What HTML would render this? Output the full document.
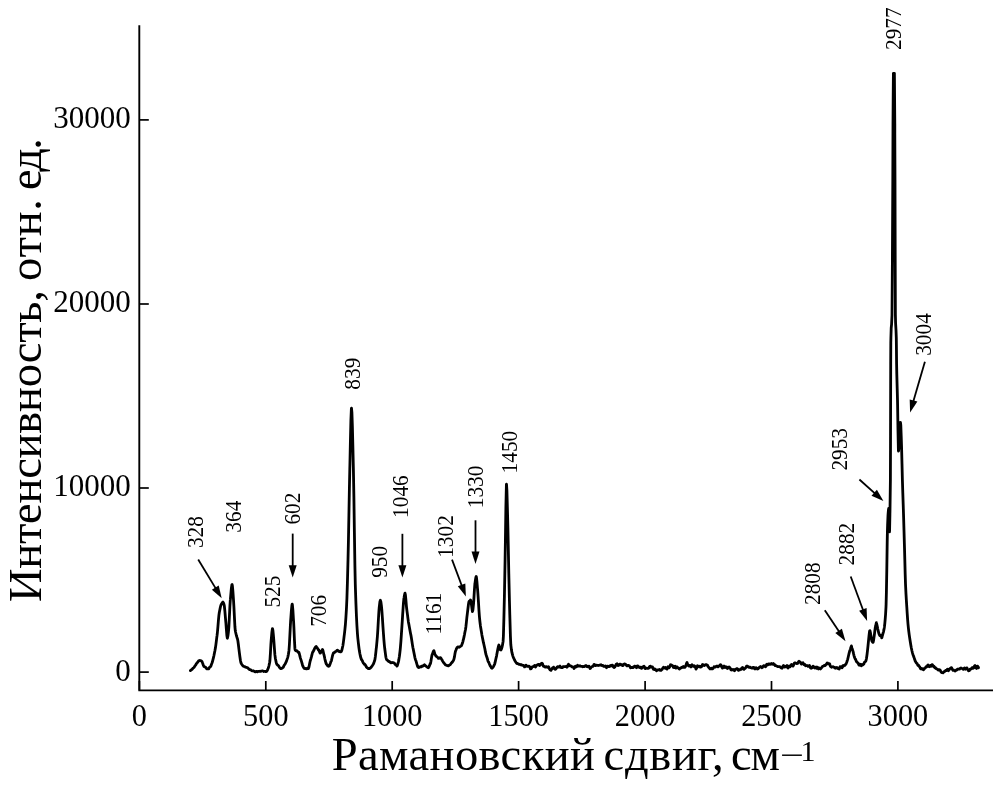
<!DOCTYPE html>
<html lang="ru"><head><meta charset="utf-8"><title>Рамановский спектр</title>
<style>
html,body{margin:0;padding:0;background:#fff;}
body{width:1004px;height:811px;overflow:hidden;font-family:"Liberation Serif",serif;}
svg{display:block;}
text{font-family:"Liberation Serif",serif;fill:#000;}
.tl{font-size:32.4px;}
.pl{font-size:22.8px;}
.ax{stroke:#000;stroke-width:1.9;fill:none;}
.tk{stroke:#000;stroke-width:1.7;}
.al{stroke:#000;stroke-width:1.8;}
.cv{stroke:#000;stroke-width:2.8;fill:none;stroke-linejoin:round;stroke-linecap:round;}
</style></head><body>
<svg width="1004" height="811" viewBox="0 0 1004 811">
<rect width="1004" height="811" fill="#fff"/>
<polyline points="139.3,25.3 139.3,690.4 993,690.4" class="ax"/>
<line x1="139.4" y1="690.4" x2="139.4" y2="681" class="tk"/><text transform="translate(139.4,726.1) scale(0.935,1)" class="tl" text-anchor="middle">0</text><line x1="265.8" y1="690.4" x2="265.8" y2="681" class="tk"/><text transform="translate(265.8,726.1) scale(0.935,1)" class="tl" text-anchor="middle">500</text><line x1="392.2" y1="690.4" x2="392.2" y2="681" class="tk"/><text transform="translate(392.2,726.1) scale(0.935,1)" class="tl" text-anchor="middle">1000</text><line x1="518.6" y1="690.4" x2="518.6" y2="681" class="tk"/><text transform="translate(518.6,726.1) scale(0.935,1)" class="tl" text-anchor="middle">1500</text><line x1="645.1" y1="690.4" x2="645.1" y2="681" class="tk"/><text transform="translate(645.1,726.1) scale(0.935,1)" class="tl" text-anchor="middle">2000</text><line x1="771.5" y1="690.4" x2="771.5" y2="681" class="tk"/><text transform="translate(771.5,726.1) scale(0.935,1)" class="tl" text-anchor="middle">2500</text><line x1="897.9" y1="690.4" x2="897.9" y2="681" class="tk"/><text transform="translate(897.9,726.1) scale(0.935,1)" class="tl" text-anchor="middle">3000</text>
<line x1="139.3" y1="672.1" x2="148.8" y2="672.1" class="tk"/><text transform="translate(130.7,680.5) scale(0.957,1)" class="tl" text-anchor="end">0</text><line x1="139.3" y1="488.0" x2="148.8" y2="488.0" class="tk"/><text transform="translate(130.7,496.4) scale(0.957,1)" class="tl" text-anchor="end">10000</text><line x1="139.3" y1="304.0" x2="148.8" y2="304.0" class="tk"/><text transform="translate(130.7,312.4) scale(0.957,1)" class="tl" text-anchor="end">20000</text><line x1="139.3" y1="119.9" x2="148.8" y2="119.9" class="tk"/><text transform="translate(130.7,128.3) scale(0.957,1)" class="tl" text-anchor="end">30000</text>
<text transform="translate(40.6,602.0) rotate(-90)" font-size="46.5" textLength="312.0" lengthAdjust="spacing">Интенсивность,</text>
<text transform="translate(40.6,281.0) rotate(-90)" font-size="46.5" textLength="82.0" lengthAdjust="spacing">отн.</text>
<text transform="translate(40.6,190.0) rotate(-90)" font-size="46.5" textLength="52.0" lengthAdjust="spacing">ед.</text>

<text x="331.8" y="769.7" font-size="46.5" textLength="263.0" lengthAdjust="spacing">Рамановский</text>
<text x="603.6" y="769.7" font-size="46.5" textLength="120.0" lengthAdjust="spacing">сдвиг,</text>
<text x="731.0" y="769.7" font-size="46.5" textLength="49.0" lengthAdjust="spacing">см</text>
<text transform="translate(780.2,764.6) scale(1.42,1)" font-size="30">−</text><text x="800.6" y="760.8" font-size="30">1</text>

<text transform="translate(203.3,532.1) rotate(-90) scale(0.935,1)" class="pl" text-anchor="middle">328</text><text transform="translate(240.8,516.7) rotate(-90) scale(0.935,1)" class="pl" text-anchor="middle">364</text><text transform="translate(279.9,591.6) rotate(-90) scale(0.935,1)" class="pl" text-anchor="middle">525</text><text transform="translate(300.4,508.6) rotate(-90) scale(0.935,1)" class="pl" text-anchor="middle">602</text><text transform="translate(326.0,610.8) rotate(-90) scale(0.935,1)" class="pl" text-anchor="middle">706</text><text transform="translate(359.7,373.7) rotate(-90) scale(0.935,1)" class="pl" text-anchor="middle">839</text><text transform="translate(387.4,561.8) rotate(-90) scale(0.935,1)" class="pl" text-anchor="middle">950</text><text transform="translate(408.3,496.6) rotate(-90) scale(0.935,1)" class="pl" text-anchor="middle">1046</text><text transform="translate(440.6,613.7) rotate(-90) scale(0.935,1)" class="pl" text-anchor="middle">1161</text><text transform="translate(453.0,536.5) rotate(-90) scale(0.935,1)" class="pl" text-anchor="middle">1302</text><text transform="translate(483.2,486.9) rotate(-90) scale(0.935,1)" class="pl" text-anchor="middle">1330</text><text transform="translate(516.7,452.1) rotate(-90) scale(0.935,1)" class="pl" text-anchor="middle">1450</text><text transform="translate(819.7,583.7) rotate(-90) scale(0.935,1)" class="pl" text-anchor="middle">2808</text><text transform="translate(853.9,544.1) rotate(-90) scale(0.935,1)" class="pl" text-anchor="middle">2882</text><text transform="translate(846.8,449.3) rotate(-90) scale(0.935,1)" class="pl" text-anchor="middle">2953</text><text transform="translate(901.1,28.7) rotate(-90) scale(0.935,1)" class="pl" text-anchor="middle">2977</text><text transform="translate(931.2,334.5) rotate(-90) scale(0.935,1)" class="pl" text-anchor="middle">3004</text>
<line x1="198.2" y1="559.5" x2="216.3" y2="589.4" class="al"/><polygon points="221.7,598.3 211.9,589.8 218.7,585.6" fill="#000"/><line x1="292.7" y1="533.6" x2="292.7" y2="567.2" class="al"/><polygon points="292.7,577.6 288.7,565.2 296.7,565.2" fill="#000"/><line x1="402.4" y1="533.8" x2="402.4" y2="567.2" class="al"/><polygon points="402.4,577.6 398.4,565.2 406.4,565.2" fill="#000"/><line x1="452" y1="559.6" x2="462.2" y2="586.7" class="al"/><polygon points="465.9,596.4 457.8,586.2 465.3,583.4" fill="#000"/><line x1="475.5" y1="520.3" x2="475.5" y2="553.6" class="al"/><polygon points="475.5,564 471.5,551.6 479.5,551.6" fill="#000"/><line x1="824.8" y1="610.3" x2="839.7" y2="632.6" class="al"/><polygon points="845.5,641.2 835.3,633.1 841.9,628.7" fill="#000"/><line x1="850.7" y1="576.5" x2="863.5" y2="611.2" class="al"/><polygon points="867.1,621.0 859.1,610.7 866.6,608.0" fill="#000"/><line x1="859.4" y1="479.5" x2="875.7" y2="494.1" class="al"/><polygon points="883.4,501.1 871.5,495.8 876.9,489.8" fill="#000"/><line x1="924.9" y1="361.7" x2="913.0" y2="402.4" class="al"/><polygon points="910.1,412.4 909.7,399.4 917.4,401.6" fill="#000"/>
<path class="cv" d="M190.4,670.6 L190.9,670.2 L191.4,669.8 L191.9,669.4 L192.4,668.9 L192.9,668.5 L193.0,668.2 L193.4,667.9 L193.9,667.5 L194.4,666.9 L194.9,666.0 L195.4,665.2 L195.9,664.7 L196.0,664.5 L196.4,663.7 L196.9,663.1 L197.4,662.5 L197.9,662.0 L198.4,661.1 L198.9,660.7 L199.4,660.5 L199.9,660.4 L200.0,660.5 L200.4,660.6 L200.9,660.8 L201.4,660.9 L201.9,661.4 L202.4,662.5 L202.5,662.8 L202.9,663.9 L203.4,665.3 L203.9,666.3 L204.0,666.5 L204.4,666.5 L204.9,666.9 L205.4,667.0 L205.9,667.8 L206.4,668.5 L206.9,668.9 L207.4,668.8 L207.9,668.7 L208.4,668.9 L208.8,668.7 L208.9,668.4 L209.4,667.6 L209.9,667.1 L210.4,666.8 L210.9,666.0 L211.4,664.5 L211.5,664.2 L211.9,663.3 L212.4,661.8 L212.9,659.9 L213.4,657.9 L213.9,655.7 L214.4,653.2 L214.5,652.7 L214.9,650.8 L215.4,648.1 L215.9,644.6 L216.4,640.6 L216.9,636.4 L217.0,635.9 L217.4,632.5 L217.9,626.8 L218.4,620.6 L218.9,615.4 L219.3,612.5 L219.4,611.9 L219.9,609.4 L220.4,607.0 L220.9,605.2 L221.3,604.2 L221.4,604.3 L221.9,603.4 L222.4,602.5 L222.9,602.1 L223.4,602.8 L223.9,604.1 L224.3,605.7 L224.4,606.5 L224.9,611.4 L225.4,617.3 L225.8,621.8 L225.9,622.9 L226.4,629.6 L226.9,635.8 L227.3,638.1 L227.4,638.2 L227.9,636.0 L228.4,632.0 L228.6,630.2 L228.9,626.3 L229.4,616.5 L229.9,606.1 L230.3,600.2 L230.4,599.4 L230.9,593.5 L231.4,588.0 L231.9,584.8 L232.1,584.6 L232.4,585.9 L232.9,591.4 L233.4,598.5 L233.5,599.8 L233.9,606.7 L234.4,616.9 L234.9,626.5 L235.3,630.8 L235.4,631.3 L235.9,633.5 L236.4,635.5 L236.9,637.2 L237.4,638.7 L237.7,639.9 L237.9,641.0 L238.4,644.8 L238.9,648.8 L239.3,652.1 L239.4,652.9 L239.9,656.7 L240.4,660.2 L240.9,662.6 L241.4,663.7 L241.9,664.5 L242.4,665.2 L242.9,665.8 L243.4,666.2 L243.5,666.3 L243.9,666.4 L244.4,666.5 L244.9,666.7 L245.4,667.1 L245.9,667.3 L246.4,667.3 L246.9,667.5 L247.3,667.7 L247.4,667.7 L247.9,668.0 L248.4,668.5 L248.9,669.2 L249.4,669.4 L249.9,669.7 L250.4,669.7 L250.9,670.0 L251.4,670.4 L251.9,670.7 L252.4,670.9 L252.9,670.9 L253.4,671.0 L253.7,670.9 L253.9,671.0 L254.4,671.2 L254.9,671.7 L255.4,671.9 L255.9,671.6 L256.4,671.4 L256.9,671.4 L257.4,671.8 L257.9,671.5 L258.4,671.3 L258.9,671.4 L259.4,671.4 L259.9,671.3 L260.0,671.2 L260.4,671.4 L260.9,671.3 L261.4,671.1 L261.9,671.0 L262.4,670.8 L262.9,671.0 L263.4,671.2 L263.9,671.5 L264.4,671.4 L264.9,671.3 L265.4,671.4 L265.9,671.7 L266.4,671.5 L266.5,671.3 L266.9,671.0 L267.4,670.2 L267.9,668.9 L268.2,668.3 L268.4,667.8 L268.9,666.0 L269.4,663.6 L269.7,662.2 L269.9,660.8 L270.4,653.4 L270.9,644.4 L271.2,640.1 L271.4,637.8 L271.9,632.2 L272.4,628.7 L272.5,628.7 L272.9,630.3 L273.4,635.5 L273.8,640.0 L273.9,641.4 L274.4,648.3 L274.9,654.9 L275.0,655.7 L275.4,658.5 L275.9,661.0 L276.2,662.4 L276.4,663.2 L276.9,664.3 L277.4,664.9 L277.9,665.3 L278.4,665.6 L278.5,665.7 L278.9,666.4 L279.4,667.3 L279.9,668.0 L280.4,668.4 L280.9,668.6 L281.0,668.5 L281.4,668.5 L281.9,668.3 L282.4,667.9 L282.9,667.6 L283.4,667.0 L283.5,666.7 L283.9,665.8 L284.4,665.0 L284.9,664.3 L285.4,663.5 L285.8,662.5 L285.9,662.4 L286.4,661.4 L286.9,659.9 L287.4,658.4 L287.5,658.1 L287.9,656.6 L288.4,654.2 L288.9,651.0 L289.0,650.1 L289.4,644.5 L289.9,634.7 L290.4,625.0 L290.6,621.7 L290.9,617.4 L291.4,610.3 L291.9,605.4 L292.2,604.1 L292.4,604.8 L292.9,610.4 L293.4,618.9 L293.6,621.7 L293.9,627.4 L294.4,639.3 L294.9,648.4 L295.1,649.7 L295.4,650.2 L295.9,650.7 L296.4,650.9 L296.8,650.9 L296.9,650.8 L297.4,651.3 L297.9,651.9 L298.4,652.4 L298.6,652.2 L298.9,652.4 L299.4,654.0 L299.9,656.2 L300.4,658.1 L300.9,659.7 L301.0,659.9 L301.4,661.2 L301.9,662.8 L302.4,664.7 L302.9,666.2 L303.4,667.2 L303.9,667.9 L304.2,668.4 L304.4,668.5 L304.9,668.6 L305.4,668.4 L305.9,668.7 L306.4,668.9 L306.9,668.8 L307.4,668.2 L307.9,668.1 L308.2,668.4 L308.4,668.5 L308.9,667.2 L309.4,664.8 L309.9,662.2 L310.4,660.1 L310.5,660.0 L310.9,658.7 L311.4,656.9 L311.9,654.9 L312.4,653.0 L312.9,651.6 L313.0,651.9 L313.4,651.2 L313.9,650.2 L314.4,648.9 L314.9,648.0 L315.4,647.2 L315.9,646.6 L316.2,646.5 L316.4,646.8 L316.9,647.5 L317.4,648.1 L317.9,649.1 L318.4,649.9 L318.5,649.7 L318.9,650.2 L319.4,651.4 L319.9,652.7 L320.2,653.1 L320.4,653.1 L320.9,652.1 L321.4,651.4 L321.9,650.6 L322.4,649.9 L322.5,649.5 L322.9,650.3 L323.4,652.5 L323.9,654.7 L324.2,655.7 L324.4,656.6 L324.9,659.1 L325.4,661.2 L325.8,662.4 L325.9,662.9 L326.4,664.1 L326.9,664.8 L327.4,665.5 L327.9,666.0 L328.4,666.2 L328.8,666.3 L328.9,666.2 L329.4,665.8 L329.9,664.5 L330.4,663.2 L330.9,661.6 L331.2,661.2 L331.4,660.6 L331.9,658.5 L332.4,656.2 L332.9,654.4 L333.4,653.1 L333.7,652.8 L333.9,652.9 L334.4,652.6 L334.9,651.9 L335.4,651.6 L335.9,651.5 L336.4,651.3 L336.9,650.4 L337.4,650.1 L337.9,650.6 L338.4,651.0 L338.9,651.3 L339.3,651.4 L339.4,651.7 L339.9,651.7 L340.4,651.9 L340.9,651.8 L341.3,651.6 L341.4,651.3 L341.9,650.0 L342.4,647.7 L342.8,646.0 L342.9,645.5 L343.4,642.1 L343.9,638.1 L344.1,636.4 L344.4,634.1 L344.9,629.6 L345.4,624.5 L345.9,617.7 L346.4,609.3 L346.5,607.7 L346.9,598.7 L347.4,582.9 L347.9,564.1 L348.0,560.3 L348.4,542.3 L348.9,515.5 L349.4,488.2 L349.8,469.0 L349.9,464.9 L350.4,441.4 L350.9,420.0 L351.4,408.4 L351.5,408.1 L351.9,412.4 L352.4,427.1 L352.9,447.8 L353.4,469.6 L353.9,497.6 L354.4,532.8 L354.9,565.8 L355.3,584.3 L355.4,587.8 L355.9,602.6 L356.4,615.2 L356.9,625.3 L357.4,633.2 L357.7,636.8 L357.9,638.8 L358.4,643.4 L358.9,647.5 L359.4,651.1 L359.9,653.8 L360.4,656.2 L360.9,658.1 L361.4,659.4 L361.9,660.1 L362.4,660.9 L362.9,662.1 L363.4,663.1 L363.9,663.7 L364.4,664.3 L364.5,664.1 L364.9,664.5 L365.4,665.0 L365.9,666.1 L366.4,666.9 L366.9,667.4 L367.4,667.9 L367.9,668.2 L368.4,668.6 L368.9,668.7 L369.4,668.7 L369.9,668.3 L370.4,668.0 L370.9,667.5 L371.4,667.0 L371.9,666.3 L372.0,666.1 L372.4,665.5 L372.9,664.8 L373.4,664.0 L373.9,662.8 L374.4,661.2 L374.5,661.0 L374.9,659.6 L375.4,656.2 L375.9,651.9 L376.2,648.9 L376.4,647.3 L376.9,642.1 L377.4,636.3 L377.7,631.9 L377.9,628.6 L378.4,619.5 L378.9,611.3 L379.2,607.7 L379.4,605.9 L379.9,601.7 L380.4,600.3 L380.9,601.9 L381.4,605.7 L381.8,609.6 L381.9,611.1 L382.4,618.0 L382.9,625.9 L383.3,631.5 L383.4,633.0 L383.9,639.8 L384.4,645.6 L384.8,649.1 L384.9,649.7 L385.4,653.6 L385.9,657.2 L386.4,659.3 L386.5,659.4 L386.9,659.9 L387.4,660.2 L387.9,660.8 L388.4,661.3 L388.9,661.6 L389.0,661.5 L389.4,661.5 L389.9,662.1 L390.4,662.5 L390.9,662.8 L391.3,662.8 L391.4,662.7 L391.9,662.7 L392.4,662.5 L392.9,662.6 L393.4,662.7 L393.9,662.9 L394.0,662.9 L394.4,663.2 L394.9,663.9 L395.4,664.6 L395.9,664.9 L396.4,665.3 L396.9,665.9 L397.0,666.1 L397.4,665.3 L397.9,663.7 L398.4,661.9 L398.8,660.1 L398.9,659.4 L399.4,656.2 L399.9,652.3 L400.2,649.6 L400.4,647.4 L400.9,641.3 L401.4,634.1 L401.9,626.6 L402.4,618.9 L402.6,615.6 L402.9,611.0 L403.4,603.5 L403.9,598.4 L404.0,598.0 L404.4,595.6 L404.9,593.3 L405.0,593.1 L405.4,594.9 L405.9,600.0 L406.4,606.1 L406.6,608.0 L406.9,610.4 L407.4,614.1 L407.9,618.1 L408.4,621.9 L408.5,622.4 L408.9,624.6 L409.4,627.2 L409.9,630.0 L410.4,632.7 L410.6,633.7 L410.9,635.1 L411.4,638.1 L411.9,641.3 L412.4,644.6 L412.9,647.6 L413.0,648.1 L413.4,649.9 L413.9,652.5 L414.4,655.1 L414.9,657.6 L415.4,659.4 L415.9,660.7 L416.4,662.3 L416.9,664.2 L417.4,665.8 L417.9,666.9 L418.4,667.4 L418.6,667.6 L418.9,667.4 L419.4,667.3 L419.9,667.0 L420.4,666.7 L420.9,666.6 L421.4,666.8 L421.9,666.4 L422.0,666.0 L422.4,665.9 L422.9,666.1 L423.4,665.8 L423.9,665.4 L424.4,664.8 L424.9,665.1 L425.0,665.4 L425.4,665.7 L425.9,665.8 L426.4,666.4 L426.9,666.9 L427.4,667.2 L427.9,667.5 L428.2,667.5 L428.4,667.7 L428.9,667.0 L429.4,665.9 L429.9,664.5 L430.4,663.5 L430.5,663.4 L430.9,661.5 L431.4,658.4 L431.9,655.5 L432.3,654.2 L432.4,654.1 L432.9,652.7 L433.4,651.3 L433.8,650.7 L433.9,650.7 L434.4,652.3 L434.9,654.3 L435.0,654.4 L435.4,655.1 L435.9,655.9 L436.2,656.4 L436.4,656.4 L436.9,656.8 L437.4,657.1 L437.9,657.7 L438.4,658.4 L438.5,658.4 L438.9,658.4 L439.4,658.0 L439.9,657.8 L440.4,657.6 L440.9,658.0 L441.0,658.2 L441.4,658.9 L441.9,659.7 L442.4,660.7 L442.9,661.5 L443.4,662.2 L443.5,662.5 L443.9,662.8 L444.4,663.6 L444.9,664.2 L445.4,664.8 L445.8,664.9 L445.9,665.0 L446.4,665.2 L446.9,665.5 L447.4,665.6 L447.9,665.7 L448.4,665.9 L448.9,665.6 L449.4,665.1 L449.9,664.8 L450.4,664.4 L450.9,663.7 L451.4,662.9 L451.5,663.0 L451.9,662.6 L452.4,662.0 L452.9,661.2 L453.4,660.4 L453.9,659.3 L454.1,658.4 L454.4,657.2 L454.9,654.1 L455.4,651.4 L455.6,650.9 L455.9,650.2 L456.4,648.8 L456.9,647.8 L457.4,647.3 L457.9,646.9 L458.4,647.1 L458.9,647.1 L459.0,647.2 L459.4,647.0 L459.9,646.7 L460.4,646.4 L460.9,646.1 L461.2,645.9 L461.4,645.6 L461.9,644.6 L462.4,643.3 L462.9,641.6 L463.4,639.4 L463.5,639.3 L463.9,637.4 L464.4,635.0 L464.9,632.2 L465.4,630.0 L465.9,626.7 L466.4,622.2 L466.9,617.1 L467.3,613.8 L467.4,613.1 L467.9,609.0 L468.4,604.8 L468.9,601.8 L469.1,601.4 L469.4,601.2 L469.9,600.7 L470.4,600.3 L470.5,600.0 L470.9,601.1 L471.4,604.3 L471.6,605.8 L471.9,608.2 L472.4,611.6 L472.5,611.5 L472.9,609.9 L473.4,605.2 L473.6,603.1 L473.9,598.6 L474.4,590.2 L474.9,583.5 L475.0,583.3 L475.4,580.3 L475.9,577.3 L476.2,576.5 L476.4,577.2 L476.9,581.4 L477.4,587.5 L477.6,589.7 L477.9,593.7 L478.4,601.2 L478.9,609.5 L479.4,616.4 L479.6,618.7 L479.9,621.5 L480.4,625.7 L480.9,628.8 L481.4,631.8 L481.6,633.0 L481.9,634.9 L482.4,637.5 L482.9,639.9 L483.4,642.4 L483.9,644.5 L484.4,646.7 L484.9,649.0 L485.4,651.9 L485.9,654.3 L486.0,654.6 L486.4,655.8 L486.9,657.3 L487.4,658.8 L487.9,660.7 L488.1,661.3 L488.4,661.9 L488.9,662.6 L489.4,664.0 L489.9,665.2 L490.3,666.0 L490.4,666.0 L490.9,666.9 L491.4,667.8 L491.9,668.2 L492.4,667.9 L492.9,667.3 L493.4,666.7 L493.9,665.7 L494.4,664.7 L494.6,664.2 L494.9,663.3 L495.4,661.1 L495.9,658.8 L496.4,656.6 L496.6,655.8 L496.9,653.9 L497.4,651.2 L497.9,648.8 L498.4,646.5 L498.9,645.0 L499.4,646.5 L499.9,648.8 L500.4,649.9 L500.9,650.0 L501.4,649.1 L501.9,647.6 L502.0,647.3 L502.4,645.4 L502.9,642.6 L503.1,641.4 L503.4,636.0 L503.9,618.1 L504.1,609.8 L504.4,596.6 L504.9,570.1 L505.1,559.4 L505.4,540.8 L505.9,506.2 L506.4,484.8 L506.5,484.1 L506.9,490.3 L507.4,508.5 L507.7,520.1 L507.9,527.9 L508.4,553.2 L508.8,573.2 L508.9,577.8 L509.4,599.6 L509.8,614.8 L509.9,618.3 L510.4,635.7 L510.8,644.5 L510.9,645.4 L511.4,649.6 L511.9,652.4 L512.4,654.3 L512.6,655.0 L512.9,656.1 L513.4,657.6 L513.9,658.5 L514.4,659.7 L514.9,660.6 L515.1,661.0 L515.4,661.5 L515.9,662.3 L516.4,663.0 L516.9,663.5 L517.4,663.7 L517.8,663.7 L517.9,663.6 L518.4,664.0 L518.9,664.3 L519.4,664.4 L519.9,664.5 L520.4,664.7 L520.7,664.8 L520.9,664.5 L521.4,664.6 L521.9,665.0 L522.4,665.4 L522.9,665.4 L523.4,665.4 L523.9,665.5 L524.0,665.6 L524.5,666.9 L525.0,666.8 L525.5,665.6 L526.0,665.2 L526.5,665.6 L527.0,666.3 L527.5,666.4 L528.0,666.3 L528.5,666.3 L529.0,666.1 L529.5,666.5 L530.0,667.6 L530.5,668.9 L531.0,668.7 L531.5,668.2 L532.0,667.2 L532.5,666.6 L533.0,666.6 L533.5,666.4 L534.0,666.2 L534.5,665.5 L535.0,666.2 L535.5,667.1 L536.0,666.3 L536.5,665.2 L537.0,665.0 L537.5,664.9 L538.0,664.6 L538.5,664.3 L539.0,664.4 L539.5,665.5 L540.0,665.2 L540.5,664.4 L541.0,663.8 L541.5,663.5 L542.0,663.2 L542.5,663.7 L543.0,665.4 L543.5,666.4 L544.0,666.4 L544.5,666.4 L545.0,667.0 L545.5,667.2 L546.0,666.6 L546.5,666.6 L547.0,667.0 L547.5,667.4 L548.0,667.0 L548.5,666.8 L549.0,667.6 L549.5,669.0 L550.0,669.8 L550.5,669.9 L551.0,670.3 L551.5,669.4 L552.0,669.0 L552.5,667.9 L553.0,668.1 L553.5,667.1 L554.0,667.9 L554.5,668.8 L555.0,669.3 L555.5,669.3 L556.0,668.8 L556.5,668.1 L557.0,667.2 L557.5,666.8 L558.0,666.6 L558.5,667.2 L559.0,667.2 L559.5,666.7 L560.0,666.1 L560.5,667.2 L561.0,667.4 L561.5,667.7 L562.0,667.4 L562.5,667.6 L563.0,666.7 L563.5,666.8 L564.0,666.7 L564.5,666.7 L565.0,666.6 L565.5,666.7 L566.0,666.3 L566.5,666.5 L567.0,667.2 L567.5,666.6 L568.0,665.1 L568.5,664.3 L569.0,665.0 L569.5,665.6 L570.0,665.7 L570.5,666.0 L571.0,666.1 L571.5,666.3 L572.0,666.9 L572.5,666.8 L573.0,666.8 L573.5,667.4 L574.0,668.5 L574.5,667.7 L575.0,666.6 L575.5,666.2 L576.0,667.0 L576.5,666.9 L577.0,666.3 L577.5,665.3 L578.0,665.7 L578.5,666.1 L579.0,666.2 L579.5,666.0 L580.0,665.7 L580.5,666.2 L581.0,666.3 L581.5,666.4 L582.0,666.3 L582.5,666.7 L583.0,666.4 L583.5,666.7 L584.0,666.4 L584.5,666.5 L585.0,666.0 L585.5,665.6 L586.0,665.5 L586.5,665.9 L587.0,666.6 L587.5,666.8 L588.0,666.6 L588.5,666.3 L589.0,666.2 L589.5,667.4 L590.0,668.5 L590.5,668.2 L591.0,667.4 L591.5,667.0 L592.0,666.5 L592.5,666.4 L593.0,666.3 L593.5,665.5 L594.0,664.5 L594.5,664.5 L595.0,664.9 L595.5,665.6 L596.0,665.5 L596.5,665.2 L597.0,665.2 L597.5,665.4 L598.0,665.3 L598.5,665.5 L599.0,665.4 L599.5,665.1 L600.0,665.0 L600.5,665.0 L601.0,664.8 L601.5,665.5 L602.0,665.4 L602.5,665.3 L603.0,665.5 L603.5,666.4 L604.0,666.3 L604.5,666.3 L605.0,666.2 L605.5,666.0 L606.0,667.1 L606.5,667.7 L607.0,667.0 L607.5,666.1 L608.0,666.3 L608.5,666.5 L609.0,666.5 L609.5,666.5 L610.0,665.8 L610.5,665.6 L611.0,666.1 L611.5,665.4 L612.0,665.2 L612.5,665.1 L613.0,666.0 L613.5,667.0 L614.0,667.5 L614.5,667.2 L615.0,666.8 L615.5,665.6 L616.0,664.5 L616.5,664.0 L617.0,663.8 L617.5,664.7 L618.0,665.6 L618.5,665.5 L619.0,665.1 L619.5,664.3 L620.0,664.1 L620.5,664.3 L621.0,664.9 L621.5,664.6 L622.0,665.1 L622.5,665.7 L623.0,665.7 L623.5,664.6 L624.0,664.0 L624.5,663.9 L625.0,664.0 L625.5,664.2 L626.0,664.7 L626.5,665.4 L627.0,665.9 L627.5,665.8 L628.0,665.6 L628.5,665.4 L629.0,665.5 L629.5,666.1 L630.0,666.8 L630.5,667.7 L631.0,667.4 L631.5,667.6 L632.0,667.3 L632.5,667.5 L633.0,667.5 L633.5,666.9 L634.0,666.7 L634.5,666.2 L635.0,666.1 L635.5,666.9 L636.0,667.0 L636.5,667.7 L637.0,666.2 L637.5,665.8 L638.0,666.0 L638.5,666.9 L639.0,667.3 L639.5,667.5 L640.0,667.2 L640.5,667.2 L641.0,668.0 L641.5,668.4 L642.0,668.1 L642.5,666.8 L643.0,666.8 L643.5,666.5 L644.0,666.2 L644.5,667.2 L645.0,668.4 L645.5,668.6 L646.0,668.2 L646.5,668.2 L647.0,668.1 L647.5,668.4 L648.0,668.4 L648.5,668.2 L649.0,667.9 L649.5,666.6 L650.0,666.3 L650.5,666.2 L651.0,667.0 L651.5,667.0 L652.0,667.0 L652.5,666.9 L653.0,668.3 L653.5,669.3 L654.0,669.5 L654.5,668.9 L655.0,669.1 L655.5,669.6 L656.0,669.8 L656.5,670.7 L657.0,670.2 L657.5,670.1 L658.0,669.9 L658.5,669.9 L659.0,669.8 L659.5,669.4 L660.0,670.3 L660.5,670.1 L661.0,670.4 L661.5,669.7 L662.0,669.7 L662.5,668.6 L663.0,668.1 L663.5,667.3 L664.0,667.9 L664.5,667.8 L665.0,668.2 L665.5,667.5 L666.0,668.0 L666.5,668.7 L667.0,669.1 L667.5,667.8 L668.0,666.8 L668.5,667.1 L669.0,667.8 L669.5,667.2 L670.0,666.1 L670.5,664.8 L671.0,665.1 L671.5,664.9 L672.0,665.4 L672.5,665.5 L673.0,666.6 L673.5,667.5 L674.0,667.6 L674.5,666.4 L675.0,666.2 L675.5,667.4 L676.0,668.1 L676.5,667.5 L677.0,666.8 L677.5,667.5 L678.0,667.8 L678.5,668.3 L679.0,668.8 L679.5,669.1 L680.0,668.2 L680.5,668.0 L681.0,668.1 L681.5,667.6 L682.0,667.4 L682.5,666.9 L683.0,667.2 L683.5,666.6 L684.0,667.3 L684.5,667.0 L685.0,667.2 L685.5,666.3 L686.0,665.2 L686.5,663.4 L687.0,662.5 L687.5,663.9 L688.0,665.4 L688.5,665.7 L689.0,666.0 L689.5,665.6 L690.0,665.4 L690.5,666.3 L691.0,666.9 L691.5,665.5 L692.0,664.7 L692.5,665.2 L693.0,666.2 L693.5,666.3 L694.0,666.5 L694.5,665.8 L695.0,666.6 L695.5,667.6 L696.0,669.1 L696.5,668.2 L697.0,667.3 L697.5,665.8 L698.0,666.2 L698.5,666.1 L699.0,666.8 L699.5,666.2 L700.0,666.4 L700.5,667.0 L701.0,667.0 L701.5,666.8 L702.0,665.6 L702.5,664.5 L703.0,664.6 L703.5,665.1 L704.0,665.5 L704.5,665.5 L705.0,665.1 L705.5,664.8 L706.0,664.6 L706.5,664.7 L707.0,665.2 L707.5,665.1 L708.0,666.5 L708.5,667.0 L709.0,667.9 L709.5,668.1 L710.0,668.9 L710.5,668.7 L711.0,668.9 L711.5,668.2 L712.0,668.5 L712.5,668.9 L713.0,668.5 L713.5,667.8 L714.0,666.8 L714.5,667.0 L715.0,666.9 L715.5,667.1 L716.0,666.3 L716.5,666.4 L717.0,665.9 L717.5,666.4 L718.0,666.8 L718.5,666.4 L719.0,665.8 L719.5,665.9 L720.0,665.0 L720.5,664.6 L721.0,665.0 L721.5,666.3 L722.0,667.4 L722.5,668.1 L723.0,667.7 L723.5,666.4 L724.0,665.9 L724.5,666.5 L725.0,667.5 L725.5,667.3 L726.0,666.9 L726.5,666.8 L727.0,668.3 L727.5,668.5 L728.0,668.0 L728.5,667.2 L729.0,667.0 L729.5,667.3 L730.0,667.9 L730.5,668.8 L731.0,669.9 L731.5,670.0 L732.0,669.7 L732.5,669.8 L733.0,669.4 L733.5,669.8 L734.0,670.3 L734.5,670.8 L735.0,669.9 L735.5,669.1 L736.0,669.1 L736.5,668.9 L737.0,668.5 L737.5,668.9 L738.0,669.9 L738.5,670.3 L739.0,669.9 L739.5,669.9 L740.0,669.8 L740.5,669.1 L741.0,668.7 L741.5,669.2 L742.0,668.1 L742.5,667.5 L743.0,667.7 L743.5,668.7 L744.0,669.3 L744.5,668.6 L745.0,668.4 L745.5,667.9 L746.0,667.3 L746.5,666.2 L747.0,666.0 L747.5,666.5 L748.0,666.4 L748.5,667.0 L749.0,667.3 L749.5,667.1 L750.0,667.2 L750.5,667.6 L751.0,667.7 L751.5,667.9 L752.0,668.1 L752.5,668.1 L753.0,667.4 L753.5,667.3 L754.0,667.5 L754.5,668.6 L755.0,669.1 L755.5,668.6 L756.0,667.7 L756.5,667.8 L757.0,668.4 L757.5,669.0 L758.0,668.9 L758.5,668.2 L759.0,667.7 L759.5,667.2 L760.0,666.9 L760.5,666.4 L761.0,666.9 L761.5,667.4 L762.0,667.7 L762.5,667.3 L763.0,666.4 L763.5,665.8 L764.0,665.6 L764.5,666.1 L765.0,666.5 L765.5,666.8 L766.0,666.3 L766.5,664.6 L767.0,664.2 L767.5,664.7 L768.0,664.8 L768.5,663.9 L769.0,663.9 L769.5,663.8 L770.0,664.4 L770.5,664.2 L771.0,664.1 L771.5,663.5 L772.0,663.9 L772.5,664.2 L773.0,664.3 L773.5,663.6 L774.0,664.5 L774.5,664.4 L775.0,665.5 L775.5,665.3 L776.0,665.8 L776.5,666.0 L777.0,666.2 L777.5,666.4 L778.0,666.7 L778.5,666.6 L779.0,666.6 L779.5,666.6 L780.0,666.8 L780.5,667.3 L781.0,667.7 L781.5,668.0 L782.0,668.2 L782.5,667.5 L783.0,666.1 L783.5,665.6 L784.0,666.1 L784.5,667.1 L785.0,667.0 L785.5,666.9 L786.0,666.5 L786.5,665.9 L787.0,665.4 L787.5,667.2 L788.0,668.0 L788.5,667.2 L789.0,666.2 L789.5,666.1 L790.0,666.9 L790.5,666.1 L791.0,665.1 L791.5,664.5 L792.0,664.8 L792.5,665.5 L793.0,666.1 L793.5,665.2 L794.0,664.0 L794.5,663.0 L795.0,662.8 L795.5,663.1 L796.0,663.2 L796.5,663.4 L797.0,663.6 L797.5,663.5 L798.0,662.9 L798.5,661.8 L799.0,661.3 L799.5,661.8 L800.0,661.9 L800.5,662.4 L801.0,663.5 L801.5,664.1 L802.0,663.6 L802.5,663.0 L803.0,662.7 L803.5,663.9 L804.0,664.5 L804.5,664.4 L805.0,664.6 L805.5,665.7 L806.0,665.5 L806.5,665.6 L807.0,665.5 L807.5,665.7 L808.0,666.4 L808.5,666.4 L809.0,665.8 L809.5,665.5 L810.0,666.7 L810.5,667.8 L811.0,668.2 L811.5,667.9 L812.0,667.9 L812.4,667.6 L812.8,666.3 L813.2,666.2 L813.6,666.7 L814.0,667.4 L814.4,667.6 L814.8,668.0 L815.2,667.9 L815.6,667.4 L816.0,667.1 L816.0,667.7 L816.4,668.3 L816.8,668.0 L817.2,667.2 L817.6,667.3 L818.0,668.4 L818.4,668.9 L818.8,668.2 L819.2,668.0 L819.6,668.1 L820.0,668.4 L820.0,668.6 L820.4,669.0 L820.8,668.6 L821.2,668.1 L821.6,667.6 L822.0,667.1 L822.4,666.5 L822.8,666.3 L823.2,666.0 L823.6,665.9 L824.0,665.6 L824.0,665.8 L824.4,665.7 L824.8,665.6 L825.2,665.7 L825.6,664.9 L826.0,664.6 L826.4,664.1 L826.8,663.7 L827.2,662.9 L827.6,663.1 L827.8,663.8 L828.0,663.7 L828.4,663.7 L828.8,663.9 L829.2,664.1 L829.6,663.8 L829.8,664.2 L830.0,665.3 L830.4,666.3 L830.8,666.7 L831.2,667.0 L831.6,666.9 L831.7,667.2 L832.0,667.0 L832.4,666.9 L832.8,666.8 L833.2,666.7 L833.6,667.1 L834.0,667.1 L834.4,667.5 L834.8,667.9 L835.2,668.2 L835.5,667.8 L835.6,667.6 L836.0,667.8 L836.4,667.6 L836.8,667.4 L837.2,668.0 L837.6,668.4 L838.0,668.4 L838.4,668.7 L838.8,668.9 L839.2,669.0 L839.4,668.3 L839.6,667.6 L840.0,666.7 L840.4,666.9 L840.8,666.7 L841.2,667.2 L841.6,667.6 L842.0,667.8 L842.4,666.7 L842.8,665.8 L843.0,666.3 L843.2,666.3 L843.6,666.0 L844.0,665.4 L844.4,665.3 L844.8,665.4 L845.2,665.0 L845.6,664.4 L845.9,663.9 L846.0,664.1 L846.4,663.1 L846.8,662.0 L847.2,660.8 L847.6,659.6 L847.6,659.6 L848.0,658.0 L848.4,656.3 L848.8,654.5 L849.0,653.7 L849.2,652.9 L849.6,651.3 L850.0,650.1 L850.3,649.6 L850.4,649.4 L850.8,648.0 L851.2,646.4 L851.4,645.9 L851.6,647.0 L852.0,648.2 L852.4,649.3 L852.8,650.6 L852.8,650.6 L853.2,652.0 L853.6,653.9 L854.0,655.6 L854.2,656.2 L854.4,657.1 L854.8,658.1 L855.2,658.9 L855.6,659.3 L855.8,659.9 L856.0,660.6 L856.4,661.6 L856.8,662.0 L857.2,662.2 L857.6,662.8 L857.6,662.7 L858.0,663.0 L858.4,663.7 L858.8,664.8 L859.2,665.2 L859.5,664.7 L859.6,664.4 L860.0,664.1 L860.4,664.6 L860.8,665.2 L861.2,665.8 L861.5,665.0 L861.6,664.5 L862.0,664.6 L862.4,665.1 L862.8,664.8 L863.2,664.3 L863.6,664.2 L864.0,663.8 L864.0,663.4 L864.4,662.5 L864.8,661.9 L865.2,661.7 L865.6,661.4 L866.0,660.6 L866.1,660.1 L866.4,658.8 L866.8,656.2 L867.1,654.0 L867.2,653.2 L867.6,649.7 L868.0,645.9 L868.0,645.9 L868.4,641.8 L868.8,637.8 L869.0,636.0 L869.2,634.2 L869.6,630.9 L869.8,630.7 L870.0,630.7 L870.4,632.6 L870.8,635.0 L870.8,635.0 L871.2,637.5 L871.6,639.9 L871.8,640.7 L872.0,641.2 L872.4,641.4 L872.5,642.1 L872.8,642.3 L873.1,642.4 L873.2,641.9 L873.6,640.1 L874.0,637.3 L874.2,636.0 L874.4,634.6 L874.8,631.2 L875.2,628.1 L875.4,627.0 L875.6,626.2 L876.0,624.4 L876.4,622.6 L876.5,623.1 L876.8,624.3 L877.2,626.1 L877.6,628.1 L877.8,629.0 L878.0,629.8 L878.4,631.6 L878.8,633.3 L879.1,634.1 L879.2,634.3 L879.6,635.3 L880.0,635.7 L880.4,635.2 L880.4,635.2 L880.8,635.2 L881.2,635.9 L881.6,636.9 L881.7,637.9 L882.0,637.3 L882.4,635.5 L882.8,634.1 L883.0,633.4 L883.2,632.8 L883.6,631.3 L884.0,629.4 L884.3,627.7 L884.4,627.0 L884.8,623.6 L885.2,619.2 L885.3,618.0 L885.6,614.0 L886.0,606.8 L886.1,604.4 L886.4,592.4 L886.8,570.0 L886.8,570.0 L887.2,542.5 L887.4,531.8 L887.6,525.1 L888.0,515.5 L888.1,514.0 L888.4,510.3 L888.7,508.5 L888.8,509.8 L889.1,520.0 L889.2,523.5 L889.5,531.8 L889.6,530.2 L889.9,515.0 L890.0,509.8 L890.4,480.0 L890.4,480.0 L890.5,450.0 L890.7,364.0 L890.8,342.8 L890.9,338.0 L891.2,328.2 L891.6,324.1 L892.0,315.0 L892.0,315.0 L892.4,260.0 L892.4,260.0 L892.8,180.0 L892.8,180.0 L893.0,124.0 L893.2,95.4 L893.4,73.5 L893.6,74.9 L894.0,74.6 L894.4,73.8 L894.4,73.3 L894.8,124.0 L894.8,133.2 L895.0,180.0 L895.2,260.0 L895.2,260.0 L895.4,315.0 L895.6,323.3 L896.0,330.0 L896.3,338.0 L896.4,345.4 L896.6,364.0 L896.8,374.1 L897.2,388.6 L897.5,400.0 L897.6,405.1 L898.0,431.1 L898.4,450.0 L898.5,451.0 L898.8,449.1 L899.2,443.1 L899.4,440.0 L899.6,436.6 L900.0,428.0 L900.4,422.3 L900.5,422.8 L900.8,425.1 L901.2,435.8 L901.5,445.0 L901.6,448.2 L902.0,464.0 L902.4,480.0 L902.4,480.0 L902.8,492.7 L903.2,504.5 L903.5,513.7 L903.6,517.0 L904.0,530.5 L904.4,544.5 L904.5,548.0 L904.8,559.3 L905.2,574.6 L905.5,583.7 L905.6,586.0 L906.0,594.1 L906.4,600.8 L906.8,607.0 L906.8,607.0 L907.2,613.3 L907.6,619.1 L908.0,624.1 L908.1,625.2 L908.4,628.1 L908.8,631.5 L909.2,634.6 L909.6,637.4 L910.0,640.0 L910.0,640.0 L910.4,642.5 L910.8,644.9 L911.2,647.2 L911.6,649.2 L912.0,651.0 L912.0,651.0 L912.4,652.6 L912.8,654.0 L913.2,655.2 L913.6,656.3 L914.0,657.5 L914.4,658.4 L914.5,659.0 L914.8,659.8 L915.2,661.0 L915.6,661.6 L916.0,662.6 L916.4,662.9 L916.8,663.5 L917.2,663.6 L917.2,663.8 L917.6,664.8 L918.0,665.4 L918.4,665.3 L918.8,665.5 L919.2,666.5 L919.6,666.7 L919.8,667.1 L920.0,667.6 L920.4,668.6 L920.8,668.9 L921.2,668.8 L921.6,668.4 L922.0,669.0 L922.4,669.2 L922.4,668.9 L922.8,668.7 L923.2,669.5 L923.6,669.7 L924.0,668.8 L924.4,668.6 L924.8,668.3 L925.2,668.3 L925.6,667.4 L926.0,667.1 L926.0,666.8 L926.4,666.4 L926.8,666.8 L927.2,666.6 L927.6,665.4 L928.0,664.9 L928.4,665.6 L928.8,666.4 L929.2,666.7 L929.6,666.3 L930.0,665.8 L930.4,665.4 L930.8,666.1 L930.8,666.4 L931.2,666.0 L931.6,665.0 L932.0,664.7 L932.4,664.7 L932.8,665.6 L933.2,666.1 L933.6,666.6 L934.0,666.2 L934.4,667.1 L934.8,667.8 L935.0,667.9 L935.2,667.6 L935.6,667.8 L936.0,668.3 L936.4,668.8 L936.8,669.0 L937.2,669.1 L937.6,669.1 L938.0,669.8 L938.4,670.1 L938.8,670.1 L939.2,669.7 L939.6,669.8 L940.0,669.8 L940.0,669.8 L940.5,670.8 L941.0,672.0 L941.5,672.4 L942.0,672.6 L942.5,672.6 L943.0,672.9 L943.5,672.3 L944.0,671.6 L944.5,671.6 L945.0,671.0 L945.5,670.6 L946.0,670.3 L946.5,670.5 L947.0,669.8 L947.5,669.1 L948.0,669.4 L948.5,670.7 L949.0,670.1 L949.5,669.3 L950.0,668.4 L950.5,668.4 L951.0,667.8 L951.5,667.6 L952.0,668.6 L952.5,669.7 L953.0,670.3 L953.5,670.0 L954.0,670.3 L954.5,670.3 L955.0,671.0 L955.5,670.7 L956.0,670.3 L956.5,669.8 L957.0,669.9 L957.5,669.1 L958.0,669.0 L958.5,669.2 L959.0,669.2 L959.5,669.2 L960.0,668.5 L960.5,668.2 L961.0,667.9 L961.5,668.4 L962.0,668.5 L962.5,668.6 L963.0,669.2 L963.5,669.4 L964.0,668.5 L964.5,667.9 L965.0,668.5 L965.5,669.2 L966.0,668.8 L966.5,668.1 L967.0,667.9 L967.5,669.2 L968.0,669.9 L968.5,670.8 L969.0,670.7 L969.5,670.4 L970.0,669.2 L970.5,669.2 L971.0,669.0 L971.5,668.4 L972.0,667.7 L972.5,667.7 L973.0,668.4 L973.5,668.1 L974.0,666.7 L974.5,666.0 L975.0,665.5 L975.5,667.0 L976.0,668.0 L976.5,668.4 L977.0,667.3 L977.5,666.1 L978.0,666.7 L978.5,667.7"/>
</svg>
</body></html>
